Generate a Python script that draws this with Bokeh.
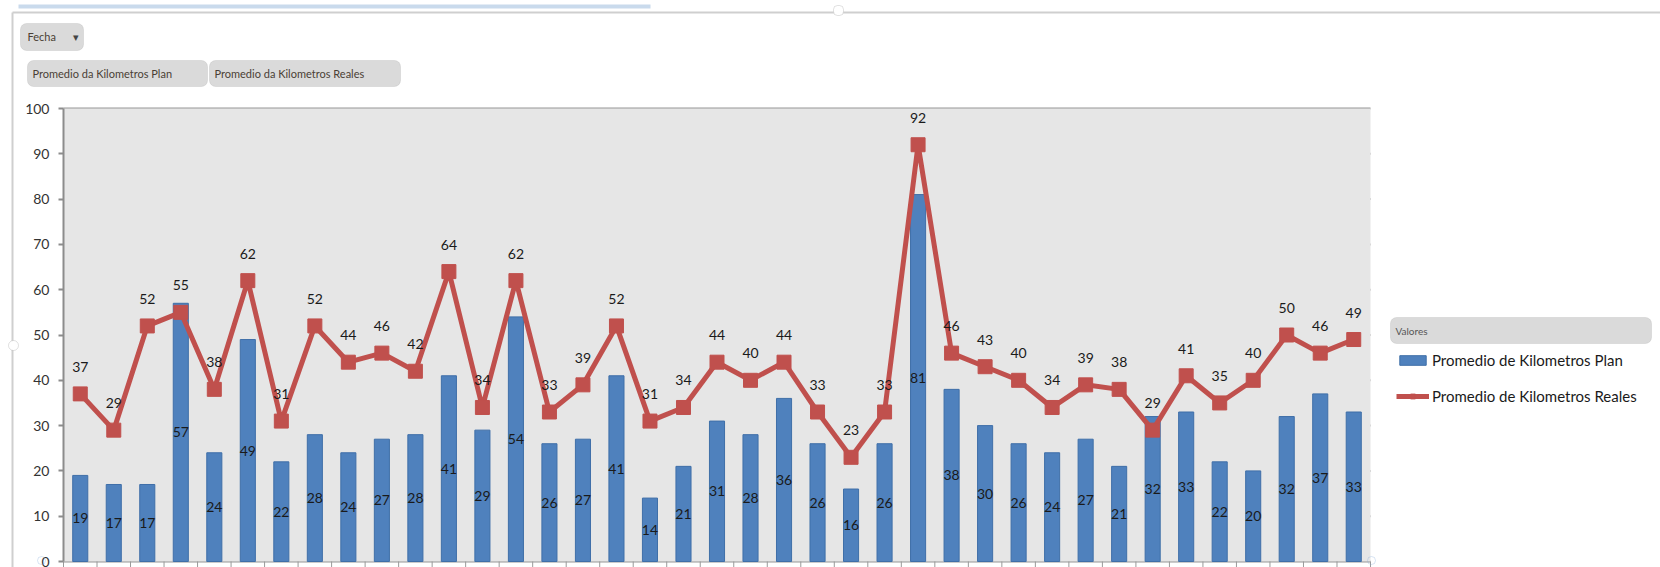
from bokeh.plotting import figure
from bokeh.models import (ColumnDataSource, FixedTicker, LinearAxis, Legend, LegendItem,
                          BoxAnnotation, Label, Range1d)
from bokeh.core.properties import value
from bokeh.embed import file_html
from bokeh.resources import INLINE

# Promedio de kilómetros por fecha
plan = [19, 17, 17, 57, 24, 49, 22, 28, 24, 27, 28, 41, 29, 54, 26, 27, 41, 14, 21, 31,
        28, 36, 26, 16, 26, 81, 38, 30, 26, 24, 27, 21, 32, 33, 22, 20, 32, 37, 33]
reales = [37, 29, 52, 55, 38, 62, 31, 52, 44, 46, 42, 64, 34, 62, 33, 39, 52, 31, 34, 44,
          40, 44, 33, 23, 33, 92, 46, 43, 40, 34, 39, 38, 29, 41, 35, 40, 50, 46, 49]
y_ticks = [0, 10, 20, 30, 40, 50, 60, 70, 80, 90, 100]
serie_plan = "Promedio de Kilometros Plan"
serie_reales = "Promedio de Kilometros Reales"

W, H = 1660, 567
PL, PT, PR, PB = 63, 108, 1370, 561   # plot-area box in canvas pixels
Y_MAX = 100

BLUE = "#4F81BD"
RED = "#C0504D"
GRID = "#979797"
AXIS = "#8C8C8C"
FONT = "Lato"

n = len(plan)
idx = list(range(n))

# the frame fills the whole canvas; ranges are chosen so that the category
# slots and the 0..100 value span land on the plot-area box
x_lo, x_hi = -0.5, n - 0.5
kx = (PR - PL) / (x_hi - x_lo)
ky = (PB - PT) / Y_MAX
x_range = Range1d(x_lo - PL / kx, x_hi + (W - PR) / kx)
y_range = Range1d(-(H - PB) / ky, Y_MAX + PT / ky)

src = ColumnDataSource(dict(
    x=idx, plan=plan, reales=reales,
    plan_mid=[v / 2 for v in plan],
    plan_txt=[str(v) for v in plan],
    real_txt=[str(v) for v in reales],
))

p = figure(width=W, height=H, output_backend="svg", toolbar_location=None,
           x_range=x_range, y_range=y_range,
           x_axis_location=None, y_axis_location=None, min_border=0)
p.background_fill_color = "white"
p.border_fill_color = "white"
p.outline_line_color = None
p.xgrid.visible = False
p.ygrid.visible = False

# plot-area background
p.add_layout(BoxAnnotation(left=x_lo, right=x_hi, bottom=0, top=Y_MAX,
                           fill_color="#E6E6E6", fill_alpha=1, line_color=None,
                           level="underlay"))

# horizontal gridlines across the plot area
p.segment(x0=[x_lo] * len(y_ticks), x1=[x_hi] * len(y_ticks), y0=y_ticks, y1=y_ticks,
          line_color=GRID, line_width=2, level="underlay")

# value axis pinned to the left edge of the plot area
yax = LinearAxis(ticker=FixedTicker(ticks=y_ticks), fixed_location=x_lo,
                 bounds=(0, Y_MAX))
yax.axis_line_color = AXIS
yax.axis_line_width = 2
yax.major_tick_line_color = AXIS
yax.major_tick_line_width = 2
yax.major_tick_out = 5
yax.major_tick_in = 0
yax.minor_tick_line_color = None
yax.major_label_standoff = 9
yax.major_label_text_font = FONT
yax.major_label_text_font_size = "14px"
yax.major_label_text_color = "#333333"
p.add_layout(yax, "left")

# category tick marks between dates, hanging below the zero line
bounds_x = [i - 0.5 for i in range(n + 1)]
p.segment(x0=bounds_x, x1=bounds_x, y0=[0] * len(bounds_x),
          y1=[-(H - PB) / ky] * len(bounds_x), line_color="#9A9A9A", line_width=1)

bars = p.vbar(x="x", top="plan", width=0.45, source=src, fill_color=BLUE,
              line_color="#3F6FA8", line_width=1)
line_r = p.line(x="x", y="reales", source=src, line_color=RED, line_width=5)
mark_r = p.scatter(x="x", y="reales", source=src, marker="square", size=14,
                   fill_color=RED, line_color=RED)

p.text(x="x", y="plan_mid", text="plan_txt", source=src, text_align="center",
       text_baseline="middle", text_font=value(FONT), text_font_size="14px",
       text_color="#1a1a1a")
p.text(x="x", y="reales", text="real_txt", source=src, text_align="center",
       text_baseline="middle", y_offset=-27, text_font=value(FONT),
       text_font_size="14px", text_color="#1a1a1a")


def sx(X):
    return X


def sy(Y):
    return H - Y


def box(x0, y0, x1, y1, fill, line=None, radius=0, fill_alpha=1.0):
    p.add_layout(BoxAnnotation(left=sx(x0), right=sx(x1), top=sy(y0), bottom=sy(y1),
                               left_units="screen", right_units="screen",
                               top_units="screen", bottom_units="screen",
                               fill_color=fill, fill_alpha=fill_alpha,
                               line_color=line, line_width=1, border_radius=radius,
                               level="annotation"))


def label(X, Y, txt, size="11px", color="#4a3f35"):
    p.add_layout(Label(x=sx(X), y=sy(Y), x_units="screen", y_units="screen",
                       text=txt, text_font=FONT, text_font_size=size,
                       text_color=color, text_baseline="middle", text_align="left",
                       level="overlay"))


# sheet frame around the chart
box(18, 4, 650, 8, "#C9DAEC")
box(12, 11, 1660, 13, "#CFCFCF")
box(11, 12, 13, 567, "#CFCFCF")
box(833, 5, 843, 15, "white", line="#9A9A9A", radius=4)
box(8, 340, 18, 350, "white", line="#9A9A9A", radius=5)
# selection handles at the plot-area bottom corners
box(37, 556, 45, 564, "white", line="#7FA7D6", radius=4, fill_alpha=0)
box(1367, 556, 1375, 564, "white", line="#7FA7D6", radius=4, fill_alpha=0)

# field buttons
box(20, 23, 83, 50, "#DADADA", line="#B4B4B4", radius=6)
label(27, 36, "Fecha")
label(72, 36, "▾", "11px", "#444444")
box(27, 60, 207, 86, "#DADADA", line="#B4B4B4", radius=6)
label(32, 73, "Promedio da Kilometros Plan")
box(209, 60, 400, 86, "#DADADA", line="#B4B4B4", radius=6)
label(214, 73, "Promedio da Kilometros Reales")

# legend header
box(1390, 317, 1651, 343, "#DADADA", line="#B4B4B4", radius=6)
label(1395, 330, "Valores", "10px", "#555555")

legend = Legend(items=[LegendItem(label=serie_plan, renderers=[bars]),
                       LegendItem(label=serie_reales, renderers=[line_r, mark_r])],
                location=(sx(1396), sy(406)), orientation="vertical",
                background_fill_alpha=0, border_line_alpha=0, padding=0, margin=0,
                glyph_width=33, glyph_height=12, label_standoff=3, spacing=16,
                label_height=20, label_text_font=FONT, label_text_font_size="15px",
                label_text_color="#1a1a1a")
p.add_layout(legend)

open("out.html", "w").write(file_html(p, INLINE))
